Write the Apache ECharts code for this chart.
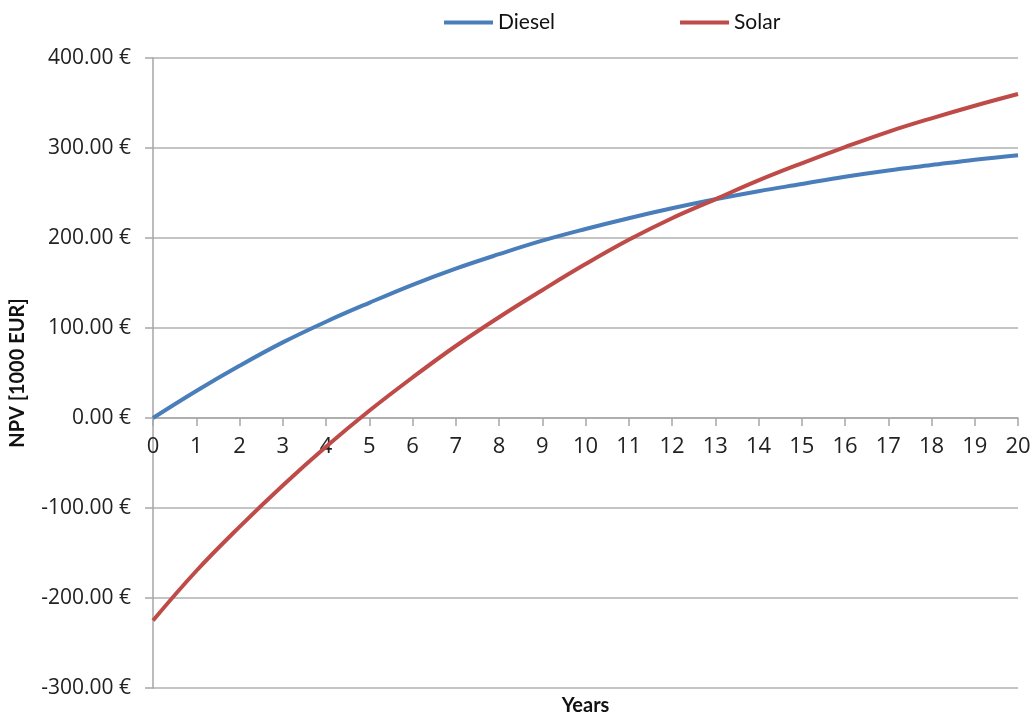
<!DOCTYPE html>
<html>
<head>
<meta charset="utf-8">
<script src="https://cdn.jsdelivr.net/npm/echarts@6/dist/echarts.min.js"></script>
<style>html,body{margin:0;padding:0;background:#fff}#c{width:1035px;height:716px}</style>
</head>
<body>
<div id="c"></div>
<script>
const years = ['0','1','2','3','4','5','6','7','8','9','10','11','12','13','14','15','16','17','18','19','20'];
const diesel = [0, 30, 58, 84, 107, 128, 148, 166, 182, 197, 210, 222, 233, 243, 252, 260, 268, 275, 281, 287, 292];
const solar = [-225, -170, -121, -75, -32, 8, 45, 80, 112, 142, 171, 198, 222, 243, 264, 283, 301, 318, 333, 347, 360];
const yMin = -300, yMax = 400, yStep = 100;

const chart = echarts.init(document.getElementById('c'), null, {renderer: 'canvas'});
const labelFont = "'Open Sans', 'DejaVu Sans', sans-serif";
const titleFont = "Lato, 'Open Sans', sans-serif";
const axisColor = '#a6a6a6';

// Main plot area spans yMin..yMax; the upper helper grid spans 0..yMax so its
// bottom edge is the zero line, where the year labels sit.
const gridTop = 58, gridBottom = 28, chartH = 716;
const plotH = chartH - gridTop - gridBottom;
const zeroFromTop = gridTop + plotH * (yMax - 0) / (yMax - yMin);

chart.setOption({
  animation: false,
  backgroundColor: '#ffffff',
  legend: {
    top: 7,
    left: 439,
    itemWidth: 49,
    itemHeight: 4,
    itemGap: 125,
    icon: 'rect',
    textStyle: {fontSize: 21, color: '#111', fontFamily: titleFont},
    data: ['Diesel', 'Solar']
  },
  grid: [
    {left: 153, right: 17, top: gridTop, bottom: gridBottom, containLabel: false, outerBoundsMode: 'none'},
    {left: 153, right: 17, top: gridTop, bottom: chartH - zeroFromTop, containLabel: false, outerBoundsMode: 'none'}
  ],
  xAxis: [
    {
      gridIndex: 0,
      type: 'category',
      data: years,
      boundaryGap: false,
      name: 'Years',
      nameLocation: 'middle',
      nameGap: 8,
      nameTextStyle: {fontSize: 20, fontWeight: 'bold', color: '#111', fontFamily: titleFont, verticalAlign: 'top'},
      axisLine: {show: false},
      axisTick: {show: false},
      axisLabel: {show: false},
      splitLine: {show: false}
    },
    {
      gridIndex: 1,
      type: 'category',
      data: years,
      boundaryGap: false,
      axisLine: {show: true, onZero: false, lineStyle: {color: axisColor, width: 1.5}},
      axisTick: {show: true, alignWithLabel: true, length: 8, lineStyle: {color: axisColor, width: 1.5}},
      axisLabel: {interval: 0, margin: 18, fontSize: 22, color: '#222', fontFamily: labelFont},
      splitLine: {show: false}
    }
  ],
  yAxis: [
    {
      gridIndex: 0,
      type: 'value',
      min: yMin, max: yMax, interval: yStep,
      name: 'NPV [1000 EUR]',
      nameLocation: 'middle',
      nameGap: 125,
      nameRotate: 90,
      nameTextStyle: {fontSize: 20, fontWeight: 'bold', color: '#111', fontFamily: titleFont},
      axisLine: {show: true, onZero: false, lineStyle: {color: axisColor, width: 1.5}},
      axisTick: {show: true, length: 8, lineStyle: {color: axisColor, width: 1.5}},
      axisLabel: {margin: 22, fontSize: 21, color: '#222', fontFamily: labelFont,
        formatter: v => v.toFixed(2) + ' €'},
      splitLine: {show: true, lineStyle: {color: '#b0b0b0', width: 1.5}}
    },
    {
      gridIndex: 1,
      type: 'value',
      min: 0, max: yMax, interval: yStep,
      show: false,
      splitLine: {show: false}
    }
  ],
  series: [
    {name: 'Diesel', type: 'line', xAxisIndex: 0, yAxisIndex: 0, data: diesel, smooth: 0.4, showSymbol: false,
      itemStyle: {color: '#4a7ebb'}, lineStyle: {color: '#4a7ebb', width: 4}, z: 3},
    {name: 'Solar', type: 'line', xAxisIndex: 0, yAxisIndex: 0, data: solar, smooth: 0.4, showSymbol: false,
      itemStyle: {color: '#be4b48'}, lineStyle: {color: '#be4b48', width: 4}, z: 3}
  ]
});
</script>
</body>
</html>
